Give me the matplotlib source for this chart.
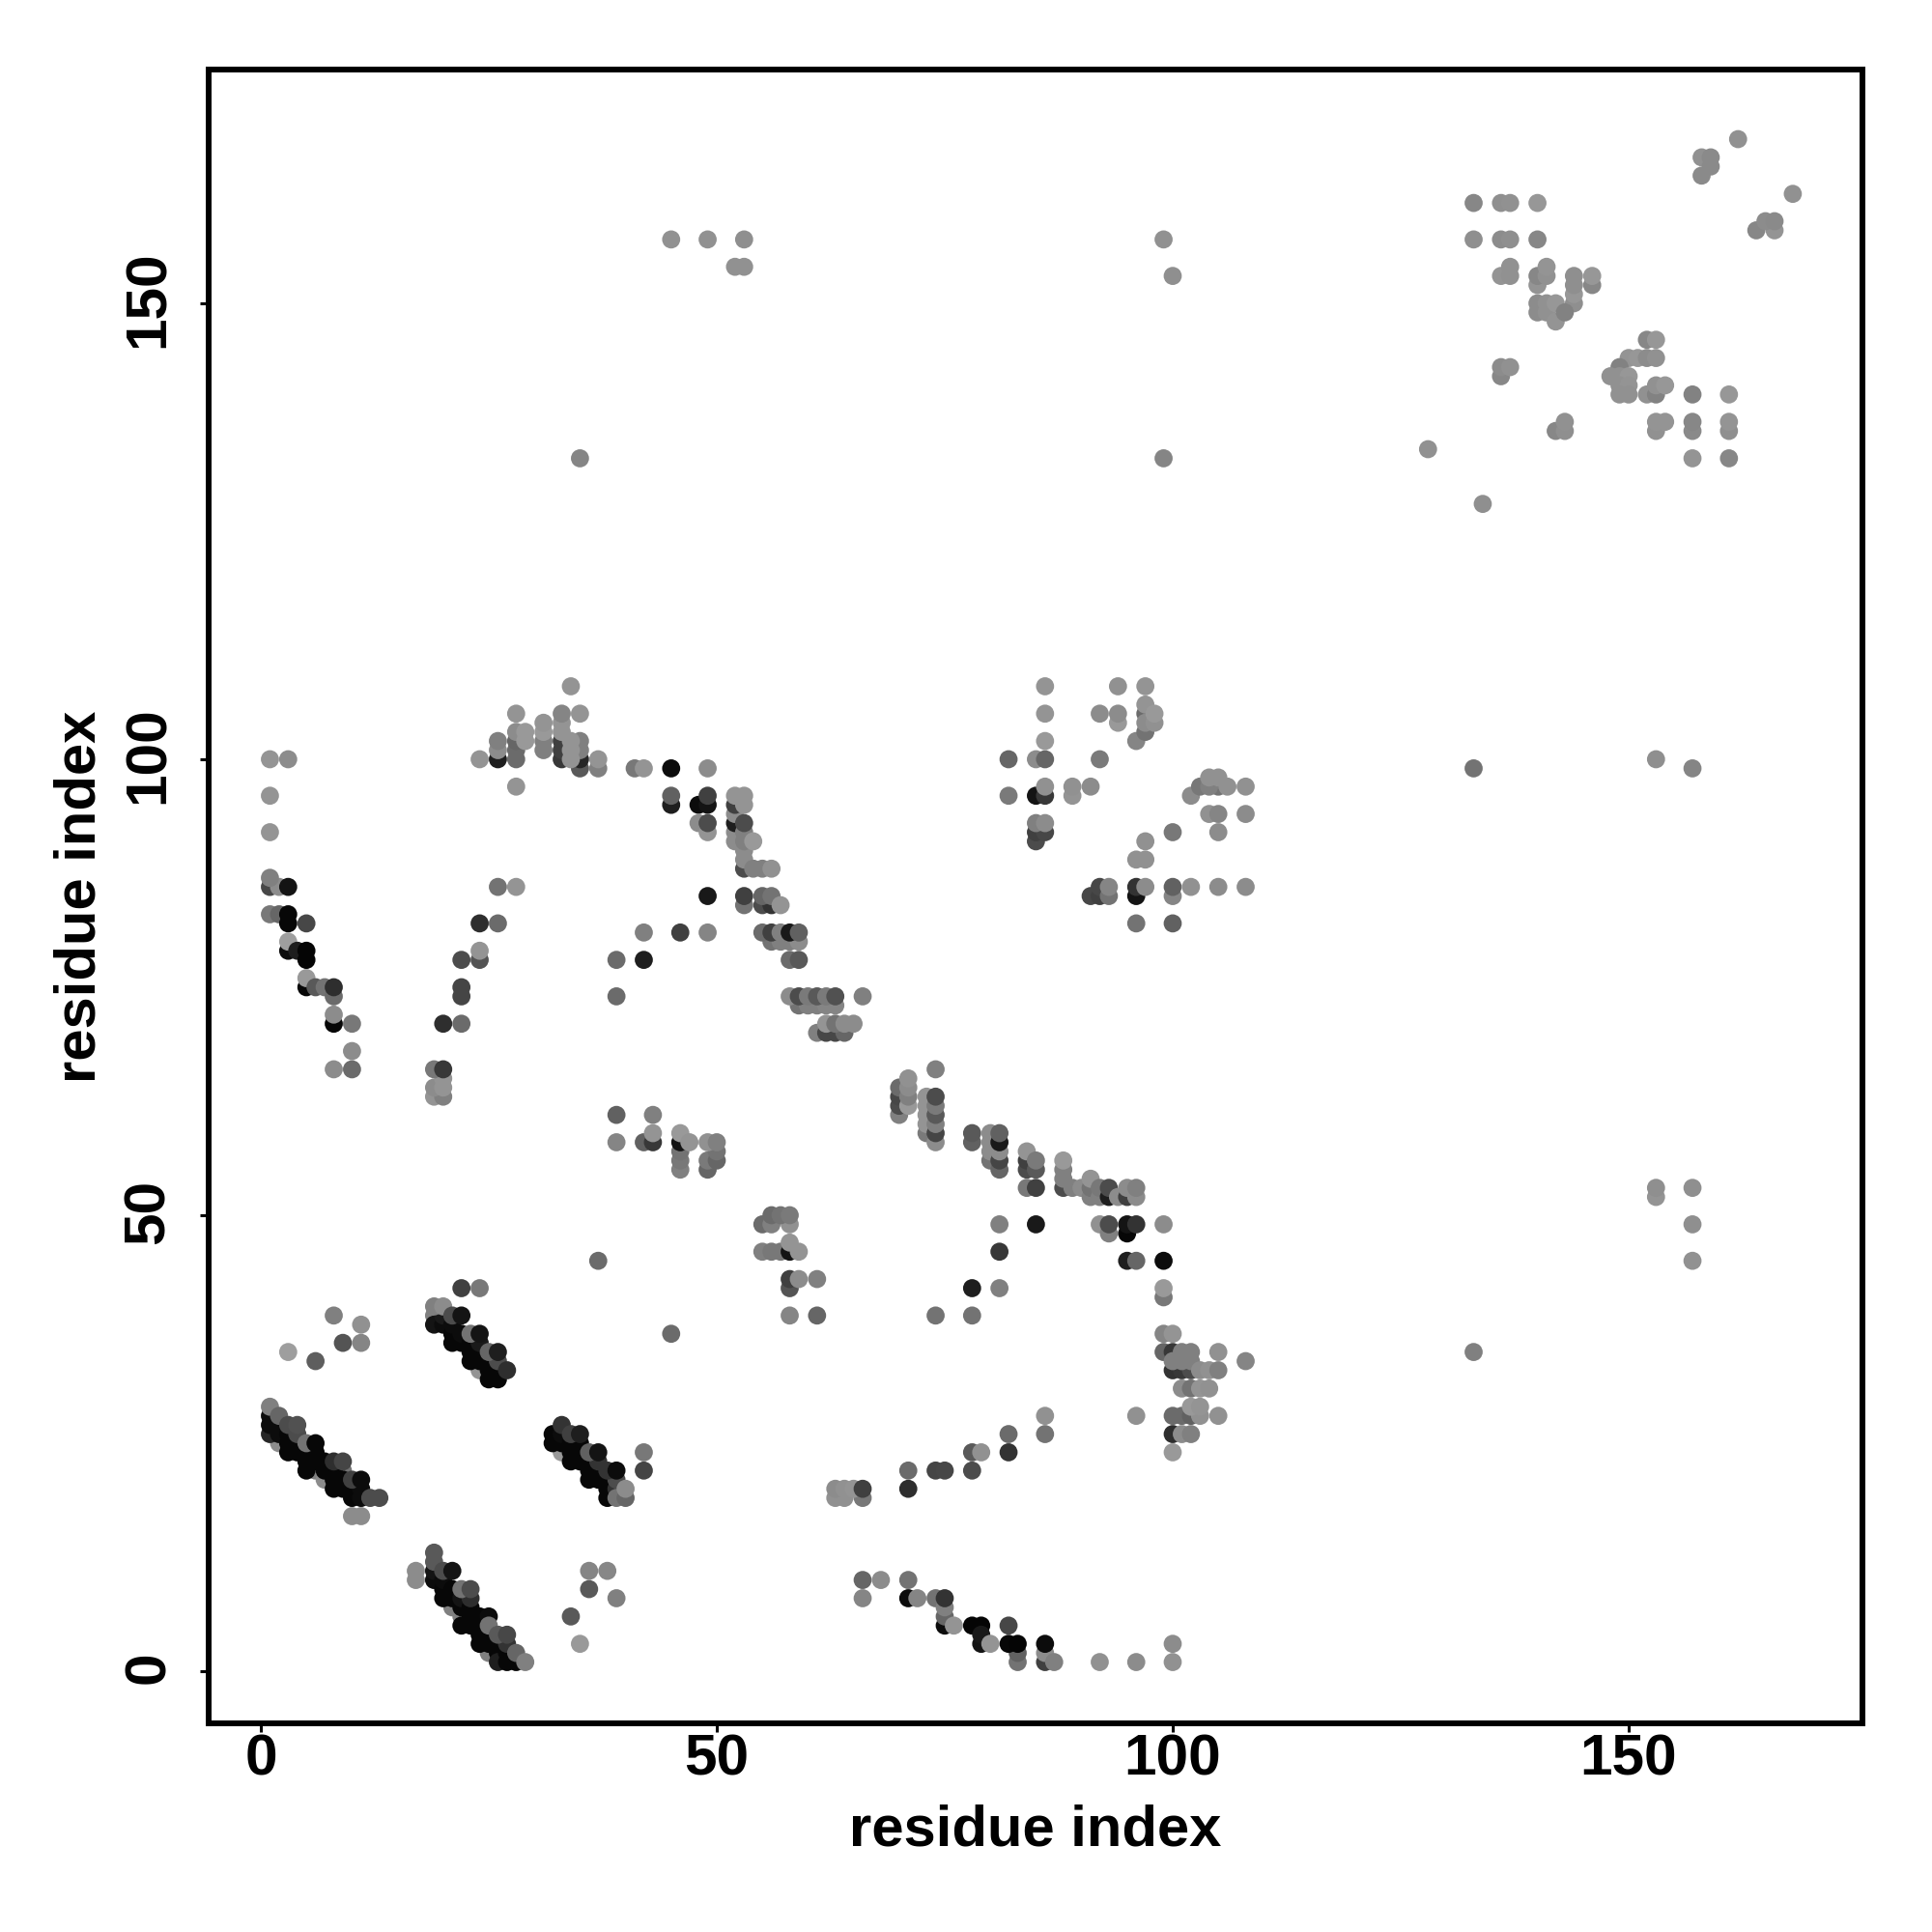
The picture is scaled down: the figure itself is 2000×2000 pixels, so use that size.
import numpy as np
import matplotlib
matplotlib.use("Agg")
import matplotlib.pyplot as plt
from matplotlib.transforms import ScaledTranslation

# points are (residue i, residue j, grey level)
band_a = [(2,25,.55),(6,22,.5),(7,21,.55),(9,22,.45),(10,17,.55),(11,17,.55),
          (1,26,.15),(1,27,.05),(1,28,.05),(2,26,.05),(2,27,.05),(3,24,.03),(3,25,.03),(3,26,.03),
          (4,24,.03),(4,25,.03),(5,22,.03),(5,23,.03),(5,24,.03),(6,23,.03),(6,24,.03),
          (7,22,.03),(7,23,.03),(8,20,.03),(8,21,.03),(8,22,.03),(9,20,.03),(9,21,.03),
          (10,19,.03),(10,20,.03),(11,19,.05),(11,20,.05),(1,29,.5),(2,28,.4),(3,27,.3),
          (4,26,.3),(4,27,.32),(5,25,.45),(6,25,.03),(8,23,.18),(9,23,.27),(10,21,.25),
          (11,21,.05),(12,19,.3),(13,19,.3)]
band_b = [(19,39,.5),(24,33,.58),(19,38,.08),(20,38,.05),(20,39,.1),(21,36,.03),(21,37,.03),(21,38,.05),
          (22,36,.03),(22,37,.05),(23,34,.03),(23,35,.03),(23,36,.03),(24,34,.03),(24,35,.03),
          (24,36,.1),(25,32,.03),(25,33,.03),(25,34,.03),(26,32,.03),(26,33,.03),(26,34,.3),
          (19,40,.5),(20,40,.55),(21,39,.3),(22,39,.08),(23,37,.45),(24,37,.08),(25,35,.4),
          (26,35,.12),(27,33,.18),(22,42,.25),(24,42,.47)]
band_c = [(33,24,.6),(32,25,.03),(32,26,.03),(33,25,.03),(33,26,.05),(34,23,.03),(34,24,.03),(34,25,.03),
          (35,23,.03),(35,24,.03),(35,25,.03),(36,21,.03),(36,22,.03),(36,23,.03),(37,21,.03),
          (37,22,.03),(37,23,.2),(38,19,.03),(38,20,.03),(38,21,.03),(39,20,.2),(39,21,.3),
          (33,27,.2),(34,26,.25),(35,26,.12),(36,24,.38),(37,24,.08),(38,22,.2),(39,22,.05),
          (39,19,.45),(40,19,.4),(40,20,.55),(42,24,.47),(42,22,.27)]
band_d = [(21,7,.5),(22,6,.5),(25,2,.5),(17,10,.55),(17,11,.55),(19,10,.05),(19,11,.08),(20,8,.03),(20,9,.03),
          (20,10,.05),(21,8,.03),(21,9,.03),(22,5,.03),(22,7,.03),(22,8,.08),(23,5,.03),(23,6,.03),
          (23,7,.03),(23,8,.18),(24,3,.03),(24,4,.03),(24,5,.03),(24,6,.03),(25,3,.03),(25,4,.03),
          (26,2,.03),(26,3,.03),(26,1,.12),(27,1,.03),(27,2,.03),(27,3,.2),(28,1,.03),
          (19,12,.35),(19,13,.35),(20,11,.3),(21,11,.08),(22,9,.45),(23,9,.3),(25,6,.05),(25,5,.45),
          (26,4,.35),(27,4,.28),(28,2,.4),(29,1,.5)]
scatter_low = [(8,39,.5),(11,38,.57),(11,36,.52),(9,36,.33),(3,35,.62),(6,34,.37),
               (36,11,.52),(38,11,.53),(36,9,.35),(39,8,.5),(34,6,.35),(35,3,.6),
               (37,45,.42),(45,37,.42),(133,35,.5)]

upper_mid = [(31,101,.5),(31,102,.5),(31,103,.6),(31,104,.58),(33,100,.22),(33,101,.25),(33,102,.25),
             (33,103,.58),(33,104,.58),(33,105,.52),(35,99,.35),(35,100,.15),(35,101,.5),(35,102,.5),
             (34,100,.58),(34,101,.58),(34,102,.58),(26,100,.12),(26,101,.55),(26,102,.5),(28,100,.42),
             (28,101,.42),(28,102,.4),(28,103,.55),(29,102,.6),(29,103,.6),(24,100,.58),(37,99,.5),
             (37,100,.58),(28,105,.58),(35,105,.58),(34,108,.58),(28,97,.58),(41,99,.47),(42,99,.58),
             (45,99,.05),(49,99,.55),(1,100,.58),(3,100,.55),(1,96,.58),(1,92,.58)]
left_arm = [(1,86,.28),(2,86,.55),(1,87,.5),(3,86,.08),(1,83,.47),(2,83,.4),(3,83,.03),(3,82,.03),(5,82,.28),
            (3,79,.05),(3,80,.62),(4,79,.12),(5,79,.02),(5,78,.02),(5,75,.03),(5,76,.6),(6,75,.35),
            (7,75,.45),(8,74,.42),(8,75,.18),(8,71,.03),(8,72,.55),(10,71,.47),(10,68,.55),(8,66,.55),
            (10,66,.42)]
mid_arm = [(26,86,.45),(28,86,.58),(24,82,.18),(26,82,.42),(22,78,.3),(24,78,.33),(24,79,.58),
           (22,74,.27),(22,75,.27),(20,71,.18),(22,71,.42),(19,63,.58),(20,63,.5),(19,64,.55),
           (20,64,.58),(20,65,.58),(19,66,.47),(20,66,.22),(39,78,.42),(42,78,.12),(39,74,.42),
           (42,81,.5),(46,81,.25),(49,81,.52),(49,85,.1)]
diagonal_a = [(45,95,.12),(45,96,.38),(48,95,.05),(49,95,.08),(49,96,.25),(48,93,.55),(49,92,.58),(49,93,.3),
              (52,91,.55),(52,92,.55),(52,93,.12),(52,94,.55),(52,95,.25),(53,88,.3),(53,89,.55),
              (53,90,.55),(53,91,.5),(53,92,.5),(53,93,.3),(52,96,.58),(53,95,.58),(53,96,.58),
              (54,91,.6),(54,88,.5),(55,88,.5),(56,88,.57),(53,84,.45),(53,85,.25),(55,84,.3),
              (56,84,.2),(55,85,.4),(56,85,.45),(57,84,.58),(56,80,.45),(57,80,.5),(58,80,.5),
              (59,80,.55),(55,81,.42),(56,81,.25),(57,81,.5),(58,81,.1),(59,81,.38),(58,78,.42),
              (59,78,.35),(59,73,.45),(60,73,.5),(61,73,.5),(62,73,.52),(63,73,.52),(58,74,.55),
              (59,74,.3),(60,74,.48),(61,74,.35),(62,74,.48),(63,74,.32),(66,74,.5),(61,70,.5),
              (62,70,.28),(63,70,.28),(64,70,.4),(62,71,.58),(63,71,.45),(64,71,.55),(65,71,.55)]
diagonal_b = [(70,61,.5),(70,62,.3),(70,63,.28),(70,64,.42),(71,62,.6),(71,63,.5),(71,64,.55),(71,65,.57),
              (73,59,.48),(73,60,.58),(73,61,.58),(73,62,.58),(73,63,.58),(74,58,.55),(74,59,.27),
              (74,60,.5),(74,61,.35),(74,62,.48),(74,63,.3),(74,66,.5),(78,58,.38),(78,59,.35),
              (80,56,.45),(80,57,.55),(80,58,.55),(80,59,.55),(81,55,.4),(81,56,.27),(81,57,.55),
              (81,58,.1),(81,59,.38),(84,55,.3),(84,56,.25),(84,57,.58),(85,55,.35),(85,56,.48),
              (84,53,.47),(85,53,.25),(88,53,.3),(88,54,.5),(88,55,.5),(88,56,.6),(89,53,.5),
              (90,53,.55),(91,52,.5),(91,53,.45),(91,54,.58),(92,52,.5),(92,53,.47),(93,52,.12),
              (93,53,.3),(94,52,.55),(95,52,.25),(95,53,.55),(96,52,.55),(96,53,.5),(92,49,.57),
              (93,48,.5),(93,49,.3),(95,48,.03),(95,49,.08),(96,49,.2),(99,49,.55),(95,45,.12),
              (96,45,.4),(99,45,.05),(99,41,.47),(99,42,.6)]
cluster_59 = [(39,61,.38),(43,61,.5),(39,58,.52),(42,58,.38),(43,58,.22),(43,59,.58),(49,55,.4),(49,56,.48),
              (50,56,.4),(50,57,.45),(49,58,.57),(50,58,.5),(46,55,.5),(46,56,.47),(46,57,.45),
              (46,58,.08),(46,59,.6),(47,58,.58)]
cluster_48 = [(55,49,.42),(56,49,.5),(58,49,.57),(56,50,.42),(57,50,.45),(58,50,.48),(55,46,.5),(56,46,.47),
              (57,46,.47),(58,46,.08),(58,47,.58),(59,46,.58),(58,42,.33),(58,43,.25),(59,43,.55),
              (61,43,.5),(58,39,.52),(61,39,.4)]
scatter_mid = [(85,49,.1),(81,49,.5),(81,46,.22),(78,42,.12),(81,42,.5),(74,39,.45),(78,39,.45),
               (63,19,.57),(64,19,.57),(66,19,.47),(63,20,.55),(64,20,.57),(65,20,.58),(66,20,.25),
               (71,22,.42),(71,20,.18),(74,22,.27),(75,22,.28),(78,24,.35),(79,24,.57),(78,22,.3),
               (82,26,.42),(82,24,.2),(86,28,.57),(86,26,.45)]
cluster_30 = [(99,37,.52),(100,37,.58),(99,35,.4),(100,35,.22),(100,33,.2),(101,33,.22),(102,33,.3),
              (100,34,.5),(101,34,.5),(102,34,.5),(101,35,.5),(102,35,.5),(105,35,.57),(108,34,.52),
              (103,33,.55),(104,33,.57),(105,33,.5),(101,31,.55),(102,31,.45),(103,31,.58),(104,31,.57),
              (100,28,.42),(101,28,.42),(102,28,.38),(103,28,.57),(102,29,.6),(103,29,.58),(96,28,.57),
              (105,28,.57),(100,26,.18),(101,26,.55),(102,26,.5),(100,24,.6)]
tail_low = [(66,10,.4),(68,10,.55),(66,8,.52),(71,10,.45),(71,8,.05),(72,8,.52),(74,8,.45),(75,5,.05),(75,6,.4),
            (75,7,.5),(75,8,.2),(76,5,.58),(78,5,.02),(79,5,.02),(79,3,.08),(79,4,.1),(80,3,.58),
            (82,5,.28),(83,1,.45),(83,2,.38),(82,3,.03),(83,3,.02),(86,1,.25),(86,2,.55),(86,3,.05),
            (87,1,.5),(92,1,.57),(96,1,.55),(100,1,.57),(100,3,.55)]
cluster_100 = [(82,100,.4),(85,100,.55),(86,100,.4),(92,100,.48),(82,96,.48),(85,96,.08),(86,96,.22),
               (86,97,.57),(89,96,.58),(89,97,.57),(91,97,.55),(85,91,.3),(85,92,.25),(86,92,.28),
               (85,93,.5),(86,93,.55),(86,102,.6),(86,105,.58),(86,108,.58),(94,108,.57),(97,108,.58),
               (92,105,.55),(94,104,.6),(94,105,.55),(96,102,.52),(97,103,.45),(97,105,.42),(97,104,.55),
               (97,106,.58),(98,104,.57),(98,105,.6)]
cluster_90 = [(102,96,.55),(103,97,.47),(105,97,.45),(104,97,.5),(106,97,.57),(104,98,.57),(105,98,.57),(108,97,.57),
              (104,94,.57),(105,94,.52),(108,94,.55),(105,92,.55),(100,92,.47),(97,91,.57),(96,89,.57),
              (97,89,.57),(91,85,.28),(92,85,.25),(92,86,.28),(93,85,.45),(93,86,.52),(96,85,.08),
              (96,86,.2),(97,86,.55),(100,85,.52),(100,86,.38),(102,86,.57),(105,86,.55),(108,86,.55),
              (96,82,.45),(100,82,.38)]
corner_top = [(162,168,.57),(158,164,.54),(158,166,.57),(159,165,.54),(159,166,.54),(168,162,.57),
              (164,158,.53),(166,158,.58),(165,159,.55),(166,159,.54),(133,161,.53),(136,161,.56),
              (137,161,.57),(140,161,.59),(133,157,.56),(136,157,.55),(137,157,.56),(140,157,.53),
              (136,153,.58),(137,153,.57),(137,154,.57),(140,152,.58),(140,153,.53),(141,153,.57),
              (141,154,.58),(144,150,.56),(144,151,.59),(144,152,.56),(144,153,.56),(146,152,.53),
              (146,153,.59),(140,149,.55),(140,150,.55),(141,149,.57),(141,150,.57),(142,148,.58),
              (142,150,.59),(143,149,.51)]
corner_mid = [(136,142,.53),(136,143,.55),(137,143,.57),(142,136,.53),(143,136,.56),(143,137,.57),(152,146,.53),
              (153,146,.59),(150,144,.58),(151,144,.59),(152,144,.55),(153,144,.57),(149,143,.51),
              (148,142,.57),(149,142,.57),(150,142,.59),(149,141,.57),(150,141,.58),(149,140,.57),
              (150,140,.57),(152,140,.57),(153,140,.51),(153,141,.57),(154,141,.59),(157,140,.51),
              (161,140,.59),(153,136,.57),(153,137,.58),(154,137,.58),(157,136,.54),(157,137,.53),
              (161,136,.56),(161,137,.58),(157,133,.58),(161,133,.53)]
far_points = [(128,134,.57),(134,128,.56),(133,99,.45),(153,100,.56),(157,99,.52),(153,52,.58),(153,53,.56),
              (157,53,.56),(157,49,.56),(157,45,.57),(35,133,.52),(99,133,.52),(99,157,.57),(100,153,.56),
              (45,157,.57),(49,157,.57),(53,157,.56),(52,154,.57),(53,154,.57)]

clusters = [band_a, band_b, band_c, band_d, scatter_low, upper_mid, left_arm, mid_arm, diagonal_a,
            diagonal_b, cluster_59, cluster_48, scatter_mid, cluster_30, tail_low, cluster_100,
            cluster_90, corner_top, corner_mid, far_points]
tick_values = [0, 50, 100, 150]

plt.rcParams['font.family'] = ['Liberation Sans', 'DejaVu Sans']
plt.rcParams['font.weight'] = 'bold'

fig = plt.figure(figsize=(20, 20), dpi=100)
ax = fig.add_axes([216/2000, 1 - 1784/2000, (1928.3-216)/2000, (1784-72)/2000])

for cluster in clusters:
    pts = np.array(cluster)
    ax.scatter(pts[:, 0], pts[:, 1], c=pts[:, 2], cmap='gray', vmin=0, vmax=1,
               s=182, linewidths=0)

ax.set_xlim(-5.72, 175.67)
ax.set_ylim(-5.72, 175.63)
ax.set_xticks(tick_values)
ax.set_yticks(tick_values)
ax.tick_params(length=6.5, width=2.2, labelsize=43.5, pad=1)
ax.tick_params(axis='y', pad=38)
# rotated y labels sit a little high in the reference
shift_up = ScaledTranslation(0, 4/100, fig.dpi_scale_trans)
for lab in ax.get_yticklabels():
    lab.set_rotation(90)
    lab.set_va('center')
    lab.set_ha('center')
    lab.set_transform(lab.get_transform() + shift_up)
for s in ax.spines.values():
    s.set_linewidth(4.3)

ax.set_xlabel('residue index', fontsize=43, fontweight='bold')
ax.set_ylabel('residue index', fontsize=43, fontweight='bold')
ax.xaxis.set_label_coords(0.5, -0.0486)
ax.yaxis.set_label_coords(-0.0616, 0.5)

fig.savefig('out.png', dpi=100, facecolor='white')
